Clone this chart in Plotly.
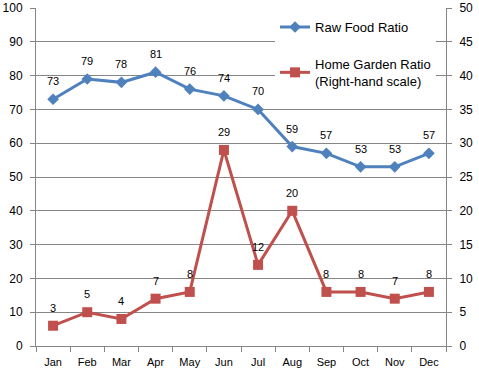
import plotly.graph_objects as go

months = ["Jan", "Feb", "Mar", "Apr", "May", "Jun", "Jul", "Aug", "Sep", "Oct", "Nov", "Dec"]
raw_food = [73, 79, 78, 81, 76, 74, 70, 59, 57, 53, 53, 57]
home_garden = [3, 5, 4, 7, 8, 29, 12, 20, 8, 8, 7, 8]
left_ticks = list(range(0, 101, 10))
right_ticks = list(range(0, 51, 5))

BLUE = "#4F81BD"
RED = "#C0504D"
GRID = "#868686"
FONT = "Liberation Sans"

fig = go.Figure()
fig.add_trace(go.Scatter(
    x=months, y=raw_food, name="Raw Food Ratio", mode="lines+markers",
    line=dict(color=BLUE, width=3), marker=dict(symbol="diamond", size=9, color=BLUE),
    legendgroup="a", cliponaxis=False,
))
fig.add_trace(go.Scatter(
    x=months, y=home_garden, name="Home Garden Ratio<br>(Right-hand scale)", mode="lines+markers",
    line=dict(color=RED, width=3), marker=dict(symbol="square", size=10, color=RED),
    yaxis="y2", legendgroup="b", cliponaxis=False,
))

annotations = []
for m, v in zip(months, raw_food):
    annotations.append(dict(x=m, y=v, xref="x", yref="y", text=str(v), showarrow=False,
                            yshift=18, font=dict(family=FONT, size=11, color="#000000")))
for m, v in zip(months, home_garden):
    annotations.append(dict(x=m, y=v, xref="x", yref="y2", text=str(v), showarrow=False,
                            yshift=18, font=dict(family=FONT, size=11, color="#000000")))

fig.update_layout(
    width=479, height=376,
    margin=dict(l=36, r=33, t=8, b=30),
    paper_bgcolor="white", plot_bgcolor="white",
    font=dict(family=FONT, size=11, color="#000000"),
    showlegend=True,
    annotations=annotations,
    legend=dict(x=0.583, y=0.988, xanchor="left", yanchor="top", bgcolor="white",
                font=dict(family=FONT, size=13), tracegroupgap=17, itemwidth=30),
    xaxis=dict(range=[-0.5, 11.5], showgrid=False, showline=True, linecolor=GRID, linewidth=1,
               ticks="outside", tickson="boundaries", ticklen=5, tickcolor=GRID,
               tickfont=dict(family=FONT, size=11), zeroline=False, automargin=False,
               ticklabelstandoff=6),
    yaxis=dict(range=[0, 100], tickvals=left_ticks, showgrid=True, gridcolor=GRID, gridwidth=1,
               showline=True, linecolor=GRID, linewidth=1, ticks="outside", ticklen=5, tickcolor=GRID,
               tickfont=dict(family=FONT, size=12), zeroline=False, automargin=False,
               ticklabelstandoff=5),
    yaxis2=dict(range=[0, 50], tickvals=right_ticks, overlaying="y", side="right", showgrid=False,
                showline=True, linecolor=GRID, linewidth=1, ticks="outside", ticklen=5, tickcolor=GRID,
                tickfont=dict(family=FONT, size=12), zeroline=False, automargin=False,
                ticklabelstandoff=5),
)

fig.write_html("out.html", config={"displayModeBar": False},
               post_script="document.body.style.margin='0';")
